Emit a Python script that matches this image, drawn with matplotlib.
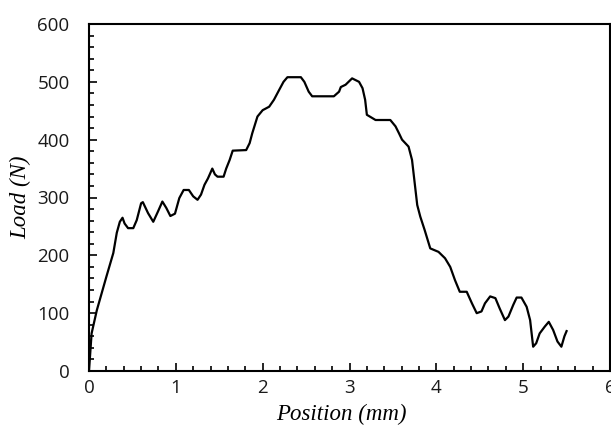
import matplotlib
matplotlib.use("Agg")
import matplotlib.pyplot as plt
from matplotlib.ticker import MultipleLocator

position_mm = [0.00, 0.03, 0.09, 0.145, 0.20, 0.28, 0.32, 0.355, 0.386, 0.41, 0.45, 0.51,
               0.55, 0.60, 0.62, 0.68, 0.74, 0.795, 0.845, 0.89, 0.937, 0.99, 1.04, 1.09,
               1.15, 1.20, 1.25, 1.29, 1.33, 1.37, 1.42, 1.45, 1.48, 1.55, 1.58, 1.62,
               1.655, 1.81, 1.85, 1.88, 1.94, 2.00, 2.075, 2.13, 2.19, 2.24, 2.285, 2.44,
               2.48, 2.53, 2.57, 2.82, 2.88, 2.90, 2.955, 3.03, 3.11, 3.15, 3.18, 3.20,
               3.30, 3.47, 3.53, 3.57, 3.605, 3.68, 3.72, 3.78, 3.815, 3.865, 3.93, 4.025,
               4.10, 4.16, 4.215, 4.27, 4.35, 4.41, 4.465, 4.52, 4.56, 4.62, 4.68, 4.73,
               4.79, 4.83, 4.885, 4.925, 4.98, 5.04, 5.08, 5.115, 5.15, 5.19, 5.25, 5.295,
               5.345, 5.395, 5.44, 5.475, 5.50]
load_n = [0, 65, 105, 134, 163, 204, 239, 258, 265, 255, 247, 247,
          261, 290, 292, 273, 258, 276, 293, 282, 268, 272, 299, 313,
          313, 302, 296, 305, 322, 333, 350, 340, 336, 336, 350, 365,
          381, 382, 394, 411, 440, 451, 457, 469, 486, 500, 508, 508,
          500, 483, 475, 475, 483, 491, 495, 506, 500, 489, 469, 443,
          434, 434, 423, 411, 400, 388, 365, 287, 267, 244, 212, 206,
          195, 180, 157, 137, 137, 117, 100, 103, 117, 129, 126, 108,
          88, 94, 114, 127, 127, 111, 88, 42, 48, 65, 77, 85,
          71, 51, 42, 60, 69]

x_ticks = [0, 1, 2, 3, 4, 5, 6]
y_ticks = [0, 100, 200, 300, 400, 500, 600]

W, H = 611, 426
fig = plt.figure(figsize=(W / 100, H / 100), dpi=100)
ax = fig.add_axes([89 / W, (H - 371) / H, (610 - 89) / W, (371 - 24) / H])

ax.plot(position_mm, load_n, color="black", linewidth=1.6)

ax.set_xlim(0, 6)
ax.set_ylim(0, 600)
ax.set_xticks(x_ticks)
ax.set_yticks(y_ticks)
ax.xaxis.set_minor_locator(MultipleLocator(0.2))
ax.yaxis.set_minor_locator(MultipleLocator(20))
ax.tick_params(which="both", direction="in", width=1.2, colors="black")
ax.tick_params(which="major", length=6)
ax.tick_params(which="minor", length=3.5)
ax.tick_params(axis="y", which="major", pad=14)
ax.tick_params(axis="x", which="major", pad=6)
for lbl in ax.get_xticklabels() + ax.get_yticklabels():
    lbl.set_fontfamily("Open Sans")
    lbl.set_fontsize(13.5)
    lbl.set_color("#1a1a1a")
for s in ax.spines.values():
    s.set_linewidth(1.5)

ax.set_xlabel("Position (mm)", fontfamily="Liberation Serif", fontstyle="italic",
              fontsize=16.5)
ax.set_ylabel("Load (N)", fontfamily="Liberation Serif", fontstyle="italic",
              fontsize=16.5, labelpad=4)
ax.xaxis.set_label_coords(0.485, -0.095)

fig.savefig("out.png", dpi=100)
